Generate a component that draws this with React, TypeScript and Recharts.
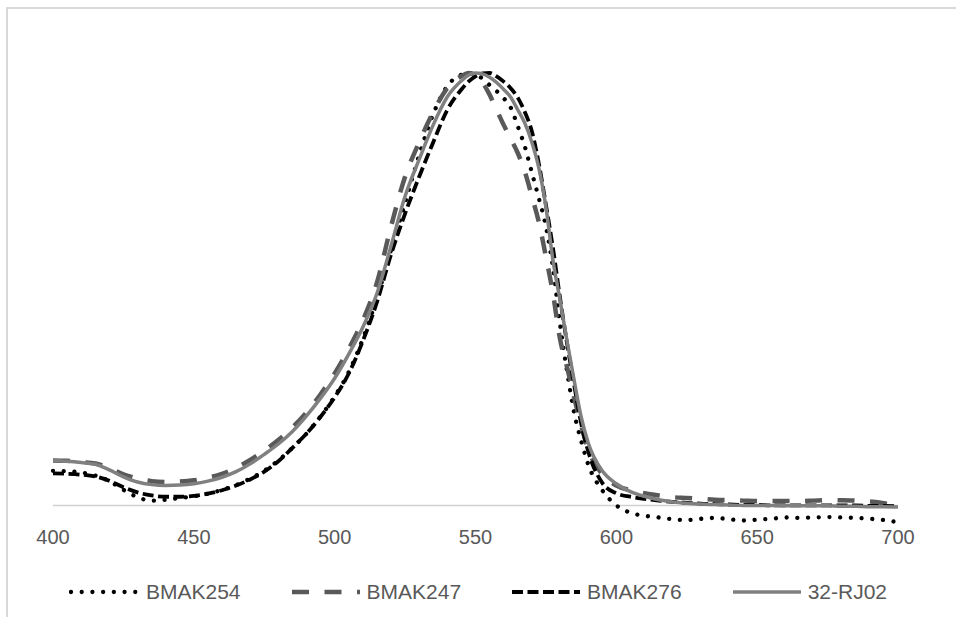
import React from 'react';
import { LineChart, Line, XAxis, YAxis, ReferenceLine } from 'recharts';

const wavelengths = [
  400, 405, 410, 415, 420, 425, 430, 435, 440, 445, 450, 455, 460, 465, 470, 475, 480, 485, 490, 495,
  500, 505, 510, 515, 520, 525, 530, 535, 540,
  545, 547.5, 550, 552.5, 555, 557.5, 560, 562.5, 565, 567.5, 570, 572.5, 575, 577.5, 580, 582.5, 585, 587.5, 590,
  595, 600, 605, 610, 615, 620, 625, 630, 635, 640, 645, 650, 655, 660, 665, 670, 675, 680, 685, 690, 695, 700,
];

const bmak254 = [
  0.080, 0.079, 0.076, 0.069, 0.056, 0.036, 0.019, 0.011, 0.013, 0.017, 0.021, 0.027, 0.036, 0.047, 0.062, 0.080, 0.104, 0.133, 0.166, 0.206,
  0.252, 0.308, 0.385, 0.48, 0.59, 0.70, 0.81, 0.905, 0.970,
  0.996, 1.0, 0.996, 0.987, 0.972, 0.958, 0.942, 0.92, 0.877, 0.83, 0.77, 0.71, 0.645, 0.55, 0.42, 0.31, 0.215, 0.15, 0.095,
  0.035, 0.0, -0.017, -0.024, -0.028, -0.032, -0.034, -0.031, -0.029, -0.032, -0.035, -0.033, -0.031, -0.028, -0.029, -0.028, -0.027, -0.028, -0.029, -0.031, -0.034, -0.039,
];

const bmak247 = [
  0.104, 0.103, 0.100, 0.097, 0.086, 0.072, 0.062, 0.056, 0.054, 0.055, 0.058, 0.064, 0.073, 0.087, 0.105, 0.127, 0.151, 0.180, 0.215, 0.257,
  0.305, 0.362, 0.428, 0.515, 0.645, 0.76, 0.84, 0.91, 0.965,
  0.993, 1.0, 0.995, 0.978, 0.95, 0.915, 0.88, 0.848, 0.815, 0.772, 0.715, 0.655, 0.575, 0.49, 0.385, 0.32, 0.25, 0.185, 0.13,
  0.072, 0.046, 0.035, 0.028, 0.023, 0.019, 0.017, 0.015, 0.013, 0.012, 0.011, 0.010, 0.010, 0.010, 0.010, 0.011, 0.012, 0.012, 0.011, 0.009, 0.005, -0.002,
];

const bmak276 = [
  0.074, 0.073, 0.071, 0.067, 0.057, 0.042, 0.030, 0.023, 0.020, 0.020, 0.022, 0.027, 0.035, 0.046, 0.060, 0.078, 0.102, 0.133, 0.166, 0.205,
  0.250, 0.305, 0.380, 0.470, 0.580, 0.675, 0.76, 0.84, 0.915,
  0.962, 0.980, 0.992, 0.999, 1.0, 0.992, 0.98, 0.965, 0.943, 0.91, 0.865, 0.79, 0.695, 0.595, 0.48, 0.375, 0.28, 0.19, 0.125,
  0.052, 0.028, 0.02, 0.015, 0.011, 0.008, 0.006, 0.004, 0.003, 0.002, 0.001, 0.001, 0.0, 0.0, 0.0, 0.0, 0.0, 0.0, 0.0, -0.001, -0.001, -0.002,
];

const rj02 = [
  0.104, 0.102, 0.099, 0.095, 0.082, 0.066, 0.054, 0.048, 0.046, 0.047, 0.050, 0.056, 0.065, 0.078, 0.096, 0.118, 0.142, 0.171, 0.207, 0.248,
  0.294, 0.350, 0.412, 0.49, 0.60, 0.715, 0.80, 0.88, 0.945,
  0.982, 0.995, 1.0, 0.998, 0.99, 0.978, 0.962, 0.944, 0.915, 0.884, 0.84, 0.78, 0.69, 0.567, 0.475, 0.38, 0.29, 0.205, 0.145,
  0.08, 0.05, 0.032, 0.021, 0.013, 0.008, 0.005, 0.003, 0.002, 0.001, 0.0, 0.0, 0.0, -0.001, -0.001, -0.001, -0.001, -0.002, -0.002, -0.003, -0.003, -0.004,
];

const xTicks = [400, 450, 500, 550, 600, 650, 700];

const seriesNames = ['BMAK254', 'BMAK247', 'BMAK276', '32-RJ02'];

const data = wavelengths.map((w, i) => ({
  w,
  BMAK254: bmak254[i],
  BMAK247: bmak247[i],
  BMAK276: bmak276[i],
  '32-RJ02': rj02[i],
}));

const styles: Record<string, { stroke: string; width: number; dash?: string; cap: 'round' | 'butt' }> = {
  BMAK254: { stroke: '#000000', width: 4.3, dash: '0.01 10.7', cap: 'round' },
  BMAK247: { stroke: '#595959', width: 4.5, dash: '17 15.5', cap: 'butt' },
  BMAK276: { stroke: '#000000', width: 3.8, dash: '11 4.5', cap: 'butt' },
  '32-RJ02': { stroke: '#808080', width: 3.5, cap: 'butt' },
};

const FONT = '"Liberation Sans", Arial, sans-serif';

export default function App() {
  return (
    <div
      style={{
        position: 'absolute',
        left: 0,
        top: 0,
        width: 956,
        height: 617,
        overflow: 'hidden',
        background: '#ffffff',
        fontFamily: FONT,
      }}
    >
      <div
        style={{
          position: 'absolute',
          left: 6,
          top: 7,
          width: 1000,
          height: 700,
          border: '2px solid #d9d9d9',
          boxSizing: 'border-box',
        }}
      />
      <LineChart
        width={956}
        height={617}
        data={data}
        margin={{ top: 73, right: 58, bottom: 60, left: 53 }}
        style={{ position: 'absolute', left: 0, top: 0 }}
      >
        <XAxis
          dataKey="w"
          type="number"
          domain={[400, 700]}
          ticks={xTicks}
          axisLine={false}
          tickLine={false}
          tickSize={0}
          tickMargin={3}
          height={30}
          tick={{ fill: '#595959', fontSize: 20, fontFamily: FONT }}
        />
        <YAxis hide domain={[-0.05, 1]} />
        <ReferenceLine y={0} stroke="#d0d0d0" strokeWidth={1.5} />
        {seriesNames.map((name) => (
          <Line
            key={name}
            dataKey={name}
            type="monotone"
            stroke={styles[name].stroke}
            strokeWidth={styles[name].width}
            strokeDasharray={styles[name].dash}
            strokeLinecap={styles[name].cap}
            dot={false}
            activeDot={false}
            isAnimationActive={false}
          />
        ))}
      </LineChart>
      <div
        style={{
          position: 'absolute',
          left: 0,
          top: 578,
          width: 956,
          height: 28,
          display: 'flex',
          justifyContent: 'center',
          alignItems: 'center',
          gap: 49,
        }}
      >
        {seriesNames.map((name) => (
          <div key={name} style={{ display: 'flex', alignItems: 'center' }}>
            <svg width={70} height={10} style={{ display: 'block' }}>
              <line
                x1={2}
                y1={5}
                x2={70}
                y2={5}
                stroke={styles[name].stroke}
                strokeWidth={styles[name].width}
                strokeDasharray={styles[name].dash}
                strokeLinecap={styles[name].cap}
              />
            </svg>
            <span style={{ marginLeft: 7, fontSize: 21, color: '#595959', lineHeight: '28px' }}>{name}</span>
          </div>
        ))}
      </div>
    </div>
  );
}
